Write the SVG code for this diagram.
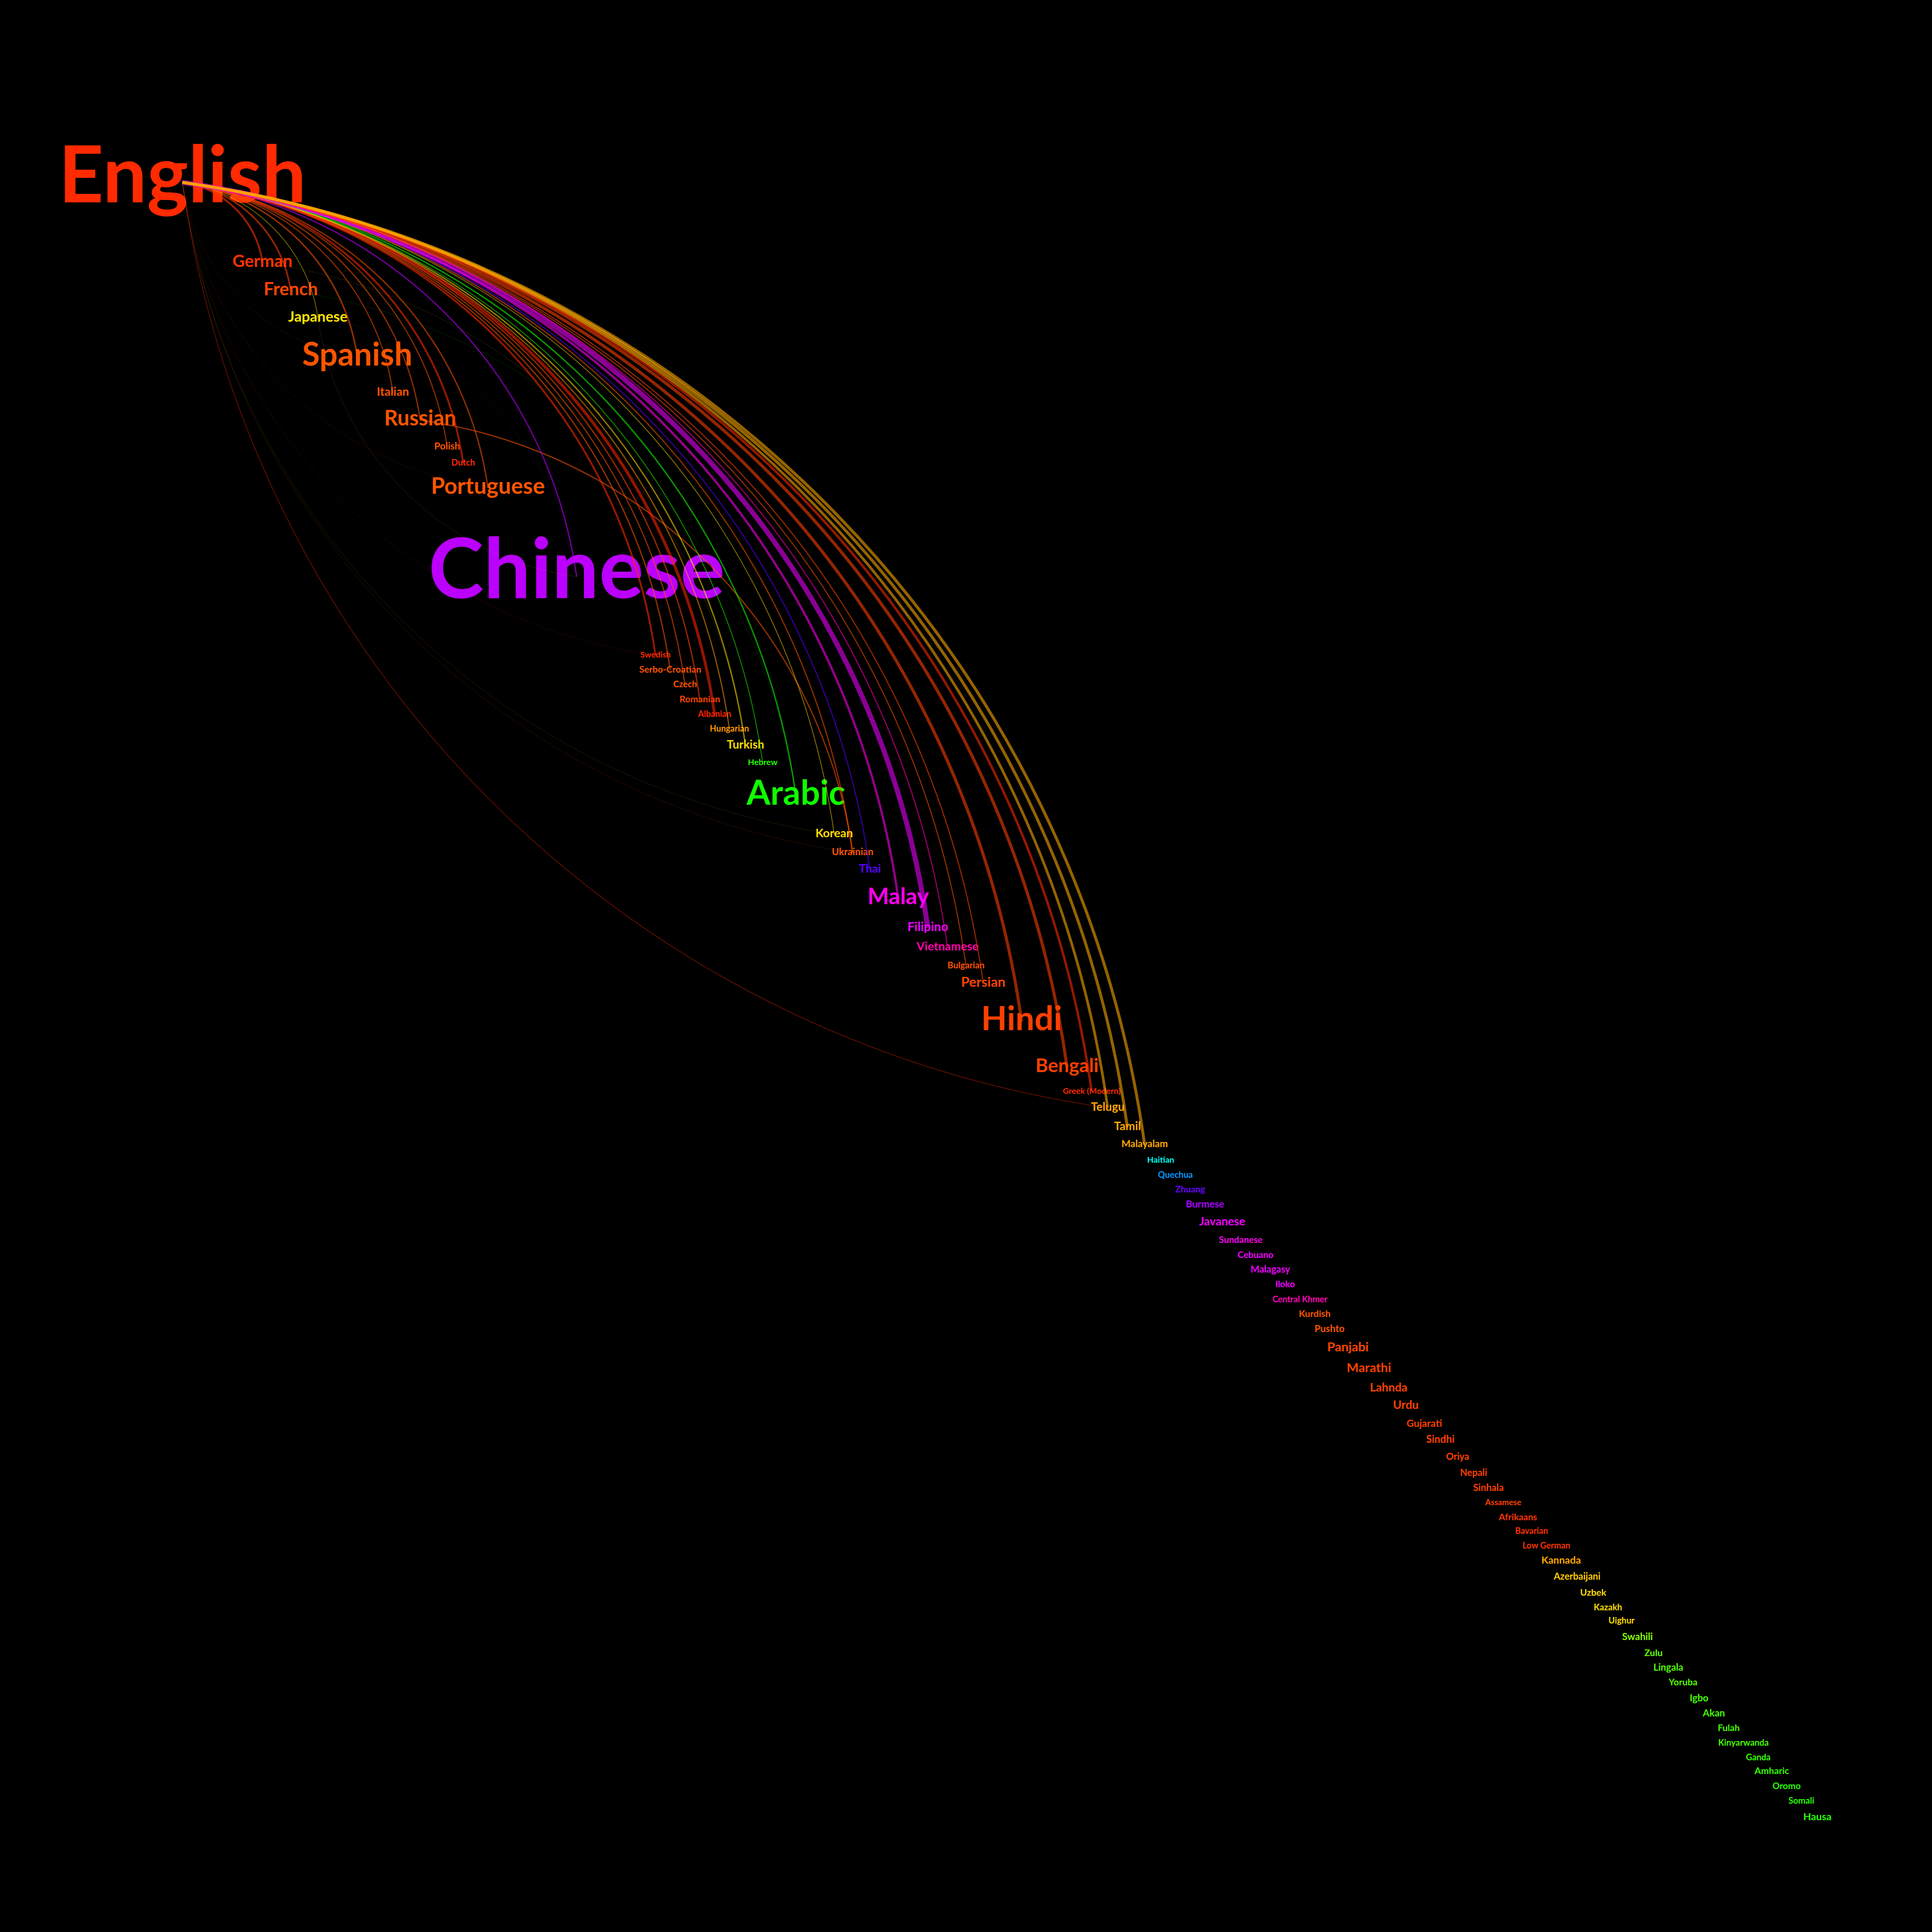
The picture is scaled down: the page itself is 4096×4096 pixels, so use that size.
<svg xmlns="http://www.w3.org/2000/svg" width="4096" height="4096" viewBox="0 0 4096 4096">
<style>
text{font-family:Lato,"Open Sans","DejaVu Sans",sans-serif;font-weight:700;text-anchor:middle;dominant-baseline:middle}
#connectors path{fill:none;stroke-opacity:.58}
#connectors .faint{stroke-opacity:.2}
</style>
<rect x="0" y="0" width="4096" height="4096" fill="#000"/>
<g id="nodes">
<g id="n-english"><text x="386.6" y="386.6" font-size="166" fill="#ff2a00">English</text></g>
<g id="n-german"><text x="556.4" y="556.4" font-size="36" fill="#ff3300">German</text></g>
<g id="n-french"><text x="616.5" y="616.5" font-size="38" fill="#ff4400">French</text></g>
<g id="n-japanese"><text x="674" y="674" font-size="31" fill="#ffe600">Japanese</text></g>
<g id="n-spanish"><text x="757.5" y="757.5" font-size="68" fill="#ff5500">Spanish</text></g>
<g id="n-italian"><text x="833" y="833" font-size="25" fill="#ff5500">Italian</text></g>
<g id="n-russian"><text x="890.8" y="890.8" font-size="45" fill="#ff5500">Russian</text></g>
<g id="n-polish"><text x="948" y="948" font-size="20.5" fill="#ff5500">Polish</text></g>
<g id="n-dutch"><text x="982" y="982" font-size="18.5" fill="#ff2a00">Dutch</text></g>
<g id="n-portuguese"><text x="1034.4" y="1034.4" font-size="47.5" fill="#ff5500">Portuguese</text></g>
<g id="n-chinese"><text x="1222.5" y="1222.5" font-size="177" fill="#bb00ff">Chinese</text></g>
<g id="n-swedish"><text x="1389.7" y="1389.7" font-size="17.5" fill="#ff2a00">Swedish</text></g>
<g id="n-serbo-croatian"><text x="1421" y="1421" font-size="19.4" fill="#ff5500">Serbo-Croatian</text></g>
<g id="n-czech"><text x="1452.4" y="1452.4" font-size="18.7" fill="#ff5500">Czech</text></g>
<g id="n-romanian"><text x="1483.7" y="1483.7" font-size="19.5" fill="#ff4400">Romanian</text></g>
<g id="n-albanian"><text x="1515" y="1515" font-size="18" fill="#ff2200">Albanian</text></g>
<g id="n-hungarian"><text x="1546.4" y="1546.4" font-size="18" fill="#ff9900">Hungarian</text></g>
<g id="n-turkish"><text x="1580.4" y="1580.4" font-size="24.5" fill="#ffdd00">Turkish</text></g>
<g id="n-hebrew"><text x="1617" y="1617" font-size="17.8" fill="#22ff00">Hebrew</text></g>
<g id="n-arabic"><text x="1687.5" y="1687.5" font-size="73" fill="#11ff00">Arabic</text></g>
<g id="n-korean"><text x="1768.5" y="1768.5" font-size="25" fill="#ffdd00">Korean</text></g>
<g id="n-ukrainian"><text x="1807.6" y="1807.6" font-size="20.6" fill="#ff5500">Ukrainian</text></g>
<g id="n-thai"><text x="1844.2" y="1844.2" font-size="24.5" fill="#5500ff">Thai</text></g>
<g id="n-malay"><text x="1904.3" y="1904.3" font-size="48" fill="#ff00ee">Malay</text></g>
<g id="n-filipino"><text x="1967" y="1967" font-size="26.4" fill="#ee00ff">Filipino</text></g>
<g id="n-vietnamese"><text x="2008.8" y="2008.8" font-size="25" fill="#ff00aa">Vietnamese</text></g>
<g id="n-bulgarian"><text x="2048" y="2048" font-size="18.7" fill="#ff5500">Bulgarian</text></g>
<g id="n-persian"><text x="2084.5" y="2084.5" font-size="28.8" fill="#ff4400">Persian</text></g>
<g id="n-hindi"><text x="2166" y="2166" font-size="71.5" fill="#ff4000">Hindi</text></g>
<g id="n-bengali"><text x="2262.2" y="2262.2" font-size="40.7" fill="#ff4000">Bengali</text></g>
<g id="n-greek"><text x="2314.4" y="2314.4" font-size="17.5" fill="#ff2a00">Greek (Modern)</text></g>
<g id="n-telugu"><text x="2348.4" y="2348.4" font-size="24.5" fill="#ffaa00">Telugu</text></g>
<g id="n-tamil"><text x="2390.2" y="2390.2" font-size="24.4" fill="#ffaa00">Tamil</text></g>
<g id="n-malayalam"><text x="2426.7" y="2426.7" font-size="20.5" fill="#ffaa00">Malayalam</text></g>
<g id="n-haitian"><text x="2460.7" y="2460.7" font-size="17.8" fill="#00ffee">Haitian</text></g>
<g id="n-quechua"><text x="2492" y="2492" font-size="18.4" fill="#0099ff">Quechua</text></g>
<g id="n-zhuang"><text x="2523.4" y="2523.4" font-size="19" fill="#6600ff">Zhuang</text></g>
<g id="n-burmese"><text x="2554.7" y="2554.7" font-size="20.7" fill="#aa00ff">Burmese</text></g>
<g id="n-javanese"><text x="2591.3" y="2591.3" font-size="24.4" fill="#ee00ff">Javanese</text></g>
<g id="n-sundanese"><text x="2630.5" y="2630.5" font-size="19.2" fill="#ff00ee">Sundanese</text></g>
<g id="n-cebuano"><text x="2661.8" y="2661.8" font-size="19.2" fill="#ee00ff">Cebuano</text></g>
<g id="n-malagasy"><text x="2693.2" y="2693.2" font-size="20" fill="#ee00ff">Malagasy</text></g>
<g id="n-iloko"><text x="2724.5" y="2724.5" font-size="19" fill="#ee00ff">Iloko</text></g>
<g id="n-central-khmer"><text x="2755.9" y="2755.9" font-size="18" fill="#ff00bb">Central Khmer</text></g>
<g id="n-kurdish"><text x="2787.2" y="2787.2" font-size="19.8" fill="#ff5500">Kurdish</text></g>
<g id="n-pushto"><text x="2818.6" y="2818.6" font-size="20.4" fill="#ff5500">Pushto</text></g>
<g id="n-panjabi"><text x="2857.7" y="2857.7" font-size="27" fill="#ff4400">Panjabi</text></g>
<g id="n-marathi"><text x="2902.2" y="2902.2" font-size="27" fill="#ff4000">Marathi</text></g>
<g id="n-lahnda"><text x="2944" y="2944" font-size="24.6" fill="#ff4000">Lahnda</text></g>
<g id="n-urdu"><text x="2980.5" y="2980.5" font-size="24.5" fill="#ff4000">Urdu</text></g>
<g id="n-gujarati"><text x="3019.7" y="3019.7" font-size="21.2" fill="#ff4000">Gujarati</text></g>
<g id="n-sindhi"><text x="3053.7" y="3053.7" font-size="21.9" fill="#ff4000">Sindhi</text></g>
<g id="n-oriya"><text x="3090.2" y="3090.2" font-size="20" fill="#ff4000">Oriya</text></g>
<g id="n-nepali"><text x="3124.2" y="3124.2" font-size="20" fill="#ff4000">Nepali</text></g>
<g id="n-sinhala"><text x="3155.5" y="3155.5" font-size="20.4" fill="#ff4000">Sinhala</text></g>
<g id="n-assamese"><text x="3186.9" y="3186.9" font-size="17.3" fill="#ff4000">Assamese</text></g>
<g id="n-afrikaans"><text x="3218.2" y="3218.2" font-size="19.3" fill="#ff3300">Afrikaans</text></g>
<g id="n-bavarian"><text x="3247" y="3247" font-size="18" fill="#ff3300">Bavarian</text></g>
<g id="n-low-german"><text x="3278.3" y="3278.3" font-size="18" fill="#ff3300">Low German</text></g>
<g id="n-kannada"><text x="3309.7" y="3309.7" font-size="21.5" fill="#ffaa00">Kannada</text></g>
<g id="n-azerbaijani"><text x="3343.6" y="3343.6" font-size="20" fill="#ffcc00">Azerbaijani</text></g>
<g id="n-uzbek"><text x="3377.6" y="3377.6" font-size="19.6" fill="#ffdd00">Uzbek</text></g>
<g id="n-kazakh"><text x="3408.9" y="3408.9" font-size="18.5" fill="#ffdd00">Kazakh</text></g>
<g id="n-uighur"><text x="3437.7" y="3437.7" font-size="18.3" fill="#ffdd00">Uighur</text></g>
<g id="n-swahili"><text x="3471.6" y="3471.6" font-size="20.6" fill="#88ff00">Swahili</text></g>
<g id="n-zulu"><text x="3505.6" y="3505.6" font-size="19.7" fill="#66ff00">Zulu</text></g>
<g id="n-lingala"><text x="3536.9" y="3536.9" font-size="20.3" fill="#55ff00">Lingala</text></g>
<g id="n-yoruba"><text x="3568.3" y="3568.3" font-size="19.5" fill="#55ff00">Yoruba</text></g>
<g id="n-igbo"><text x="3602.2" y="3602.2" font-size="20.4" fill="#44ff00">Igbo</text></g>
<g id="n-akan"><text x="3633.6" y="3633.6" font-size="20.5" fill="#44ff00">Akan</text></g>
<g id="n-fulah"><text x="3665" y="3665" font-size="19.3" fill="#44ff00">Fulah</text></g>
<g id="n-kinyarwanda"><text x="3696.3" y="3696.3" font-size="18.4" fill="#44ff00">Kinyarwanda</text></g>
<g id="n-ganda"><text x="3727.6" y="3727.6" font-size="18.2" fill="#33ff00">Ganda</text></g>
<g id="n-amharic"><text x="3756.4" y="3756.4" font-size="19.8" fill="#33ff00">Amharic</text></g>
<g id="n-oromo"><text x="3787.7" y="3787.7" font-size="19" fill="#22ff00">Oromo</text></g>
<g id="n-somali"><text x="3819.1" y="3819.1" font-size="18.5" fill="#22ff00">Somali</text></g>
<g id="n-hausa"><text x="3853" y="3853" font-size="21.6" fill="#22ff00">Hausa</text></g>
</g>
<g id="connectors">
<path class="faint" d="M386.6,386.6 A2303.2,2303.2 0 0 0 2348.4,2348.4" stroke="#ff2a00" stroke-width="1.6" style="stroke-opacity:.4"/>
<path class="faint" d="M386.6,386.6 A1668.3,1668.3 0 0 0 1807.6,1807.6" stroke="#ff5500" stroke-width="0.9"/>
<path class="faint" d="M386.6,386.6 A1622.3,1622.3 0 0 0 1768.5,1768.5" stroke="#ffdd00" stroke-width="0.7"/>
<path class="faint" d="M386.6,386.6 A1177.6,1177.6 0 0 0 1389.7,1389.7" stroke="#ff2a00" stroke-width="0.7"/>
<path class="faint" d="M386.6,386.6 A760.5,760.5 0 0 0 1034.4,1034.4" stroke="#ff5500" stroke-width="0.6"/>
<path class="faint" d="M386.6,386.6 A435.4,435.4 0 0 0 757.5,757.5" stroke="#ff5500" stroke-width="0.6"/>
<path class="faint" d="M674,674 A644,644 0 0 0 1222.5,1222.5" stroke="#ffdd00" stroke-width="0.7"/>
<path class="faint" d="M616.5,616.5 A1257.4,1257.4 0 0 1 1687.5,1687.5" stroke="#11ff00" stroke-width="0.8"/>
<path class="faint" d="M674,674 A644,644 0 0 1 1222.5,1222.5" stroke="#bb00ff" stroke-width="0.8"/>
<path class="faint" d="M556.4,556.4 A1202,1202 0 0 1 1580.4,1580.4" stroke="#ffdd00" stroke-width="0.8"/>
<path d="M890.8,890.8 A1076.3,1076.3 0 0 1 1807.6,1807.6" stroke="#ff5500" stroke-width="2.6"/>
<path d="M386.6,386.6 A199.3,199.3 0 0 1 556.4,556.4" stroke="#ff3300" stroke-width="4"/>
<path d="M386.6,386.6 A269.9,269.9 0 0 1 616.5,616.5" stroke="#ff4400" stroke-width="3.4"/>
<path d="M386.6,386.6 A337.4,337.4 0 0 1 674,674" stroke="#ffe600" stroke-width="1.3"/>
<path d="M386.6,386.6 A435.4,435.4 0 0 1 757.5,757.5" stroke="#ff5500" stroke-width="3.2"/>
<path d="M386.6,386.6 A524.1,524.1 0 0 1 833,833" stroke="#ff5500" stroke-width="2.2"/>
<path d="M386.6,386.6 A591.9,591.9 0 0 1 890.8,890.8" stroke="#ff5500" stroke-width="2.5"/>
<path d="M386.6,386.6 A659.1,659.1 0 0 1 948,948" stroke="#ff5500" stroke-width="2.2"/>
<path d="M386.6,386.6 A699,699 0 0 1 982,982" stroke="#ff2a00" stroke-width="4"/>
<path d="M386.6,386.6 A760.5,760.5 0 0 1 1034.4,1034.4" stroke="#ff5500" stroke-width="2.7"/>
<path d="M386.6,386.6 A981.3,981.3 0 0 1 1222.5,1222.5" stroke="#bb00ff" stroke-width="2.8"/>
<path d="M386.6,386.6 A1177.6,1177.6 0 0 1 1389.7,1389.7" stroke="#ff2a00" stroke-width="4"/>
<path d="M386.6,386.6 A1214.4,1214.4 0 0 1 1421,1421" stroke="#ff5500" stroke-width="2.7"/>
<path d="M386.6,386.6 A1251.3,1251.3 0 0 1 1452.4,1452.4" stroke="#ff5500" stroke-width="2.4"/>
<path d="M386.6,386.6 A1288,1288 0 0 1 1483.7,1483.7" stroke="#ff4400" stroke-width="2.8"/>
<path d="M386.6,386.6 A1324.7,1324.7 0 0 1 1515,1515" stroke="#ff2200" stroke-width="6"/>
<path d="M386.6,386.6 A1361.6,1361.6 0 0 1 1546.4,1546.4" stroke="#ff9900" stroke-width="2.4"/>
<path d="M386.6,386.6 A1401.5,1401.5 0 0 1 1580.4,1580.4" stroke="#ffdd00" stroke-width="2.8"/>
<path d="M386.6,386.6 A1444.5,1444.5 0 0 1 1617,1617" stroke="#22ff00" stroke-width="1.8"/>
<path d="M386.6,386.6 A1527.3,1527.3 0 0 1 1687.5,1687.5" stroke="#11ff00" stroke-width="3"/>
<path d="M386.6,386.6 A1622.3,1622.3 0 0 1 1768.5,1768.5" stroke="#ffdd00" stroke-width="1.6"/>
<path d="M386.6,386.6 A1668.3,1668.3 0 0 1 1807.6,1807.6" stroke="#ff5500" stroke-width="2.4"/>
<path d="M386.6,386.6 A1711.2,1711.2 0 0 1 1844.2,1844.2" stroke="#5500ff" stroke-width="2.4"/>
<path d="M386.6,386.6 A1781.8,1781.8 0 0 1 1904.3,1904.3" stroke="#ff00ee" stroke-width="4.8"/>
<path d="M386.6,386.6 A1855.4,1855.4 0 0 1 1967,1967" stroke="#ee00ff" stroke-width="10.5"/>
<path d="M386.6,386.6 A1904.5,1904.5 0 0 1 2008.8,2008.8" stroke="#ff00aa" stroke-width="2.4"/>
<path d="M386.6,386.6 A1950.5,1950.5 0 0 1 2048,2048" stroke="#ff5500" stroke-width="2.2"/>
<path d="M386.6,386.6 A1993.3,1993.3 0 0 1 2084.5,2084.5" stroke="#ff4400" stroke-width="2.4"/>
<path d="M386.6,386.6 A2090.3,2090.3 0 0 1 2166,2166" stroke="#ff4000" stroke-width="6.5"/>
<path d="M386.6,386.6 A2201.9,2201.9 0 0 1 2262.2,2262.2" stroke="#ff4000" stroke-width="6.5"/>
<path d="M386.6,386.6 A2263.2,2263.2 0 0 1 2314.4,2314.4" stroke="#ff2a00" stroke-width="5.2"/>
<path d="M386.6,386.6 A2303.2,2303.2 0 0 1 2348.4,2348.4" stroke="#ffaa00" stroke-width="5.6"/>
<path d="M386.6,386.6 A2352.2,2352.2 0 0 1 2390.2,2390.2" stroke="#ffaa00" stroke-width="6.2"/>
<path d="M386.6,386.6 A2395.1,2395.1 0 0 1 2426.7,2426.7" stroke="#ffaa00" stroke-width="6.2"/>
</g>
</svg>
